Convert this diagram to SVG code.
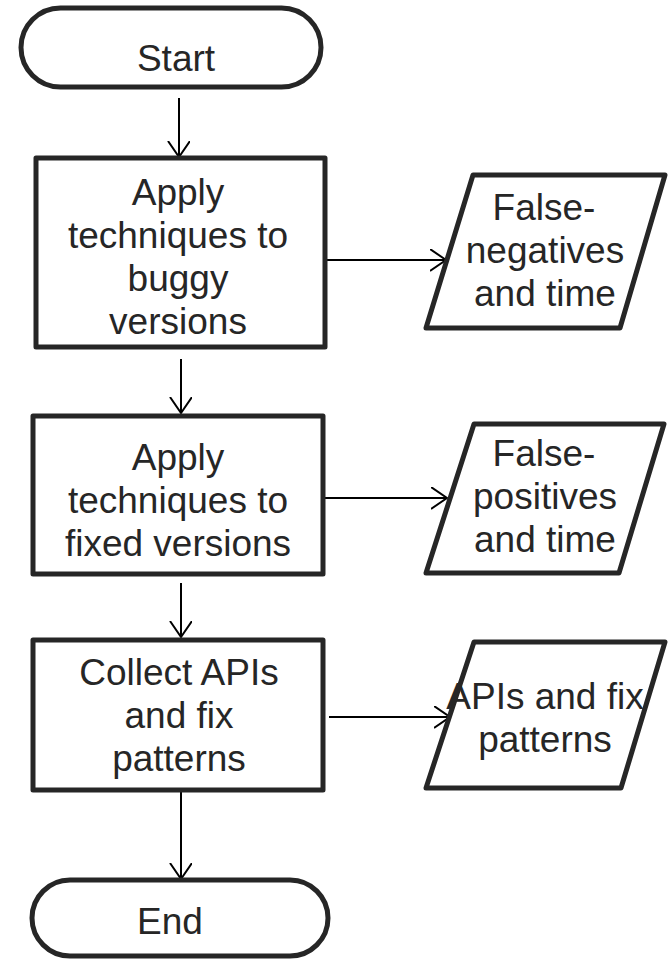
<svg xmlns="http://www.w3.org/2000/svg" width="669" height="959" viewBox="0 0 669 959">
<style>
.shape{fill:#fff;stroke:#262626;stroke-width:5;stroke-linejoin:round}
.t{font-family:"Liberation Sans",Arial,sans-serif;font-size:37px;fill:#262626;text-anchor:middle}
.c{stroke:#000;stroke-width:2;fill:none;marker-end:url(#ah)}
</style>
<defs>
<marker id="ah" markerWidth="24" markerHeight="24" refX="16" refY="11" orient="auto" markerUnits="userSpaceOnUse">
<path d="M0,0 L16,11 L0,22" fill="none" stroke="#000" stroke-width="2"/>
</marker>
</defs>
<rect width="669" height="959" fill="#fff"/>
<g id="connectors">
<line class="c" x1="179" y1="98" x2="179" y2="157"/>
<line class="c" x1="181" y1="359" x2="181" y2="413"/>
<line class="c" x1="181" y1="583" x2="181" y2="637"/>
<line class="c" x1="181" y1="791" x2="181" y2="879"/>
<line class="c" x1="325" y1="260" x2="446" y2="260"/>
<line class="c" x1="325" y1="498" x2="447" y2="498"/>
<line class="c" x1="329" y1="717" x2="450" y2="717"/>
</g>
<g id="start">
<rect class="shape" x="21" y="8" width="300" height="79" rx="39.5"/>
<text class="t" x="176" y="71">Start</text>
</g>
<g id="box1">
<rect class="shape" x="36" y="158" width="289" height="189"/>
<text class="t" x="178" y="205">Apply</text>
<text class="t" x="178" y="248">techniques to</text>
<text class="t" x="178" y="291">buggy</text>
<text class="t" x="178" y="334">versions</text>
</g>
<g id="out1">
<polygon class="shape" points="473,175 665,175 620,328 426,328"/>
<text class="t" x="544" y="220">False-</text>
<text class="t" x="545" y="263">negatives</text>
<text class="t" x="545" y="306">and time</text>
</g>
<g id="box2">
<rect class="shape" x="33" y="416" width="290" height="158"/>
<text class="t" x="178" y="470">Apply</text>
<text class="t" x="178" y="513">techniques to</text>
<text class="t" x="178" y="556">fixed versions</text>
</g>
<g id="out2">
<polygon class="shape" points="474,424 664,424 619,573 426,573"/>
<text class="t" x="544" y="466">False-</text>
<text class="t" x="545" y="509">positives</text>
<text class="t" x="545" y="552">and time</text>
</g>
<g id="box3">
<rect class="shape" x="33" y="640" width="290" height="150"/>
<text class="t" x="179" y="685">Collect APIs</text>
<text class="t" x="179" y="728">and fix</text>
<text class="t" x="179" y="771">patterns</text>
</g>
<g id="out3">
<polygon class="shape" points="474,642 665,642 621,788 426,788"/>
<text class="t" x="545" y="709">APIs and fix</text>
<text class="t" x="545" y="752">patterns</text>
</g>
<g id="end">
<rect class="shape" x="32" y="880" width="296" height="76" rx="38"/>
<text class="t" x="170" y="934">End</text>
</g>
</svg>
